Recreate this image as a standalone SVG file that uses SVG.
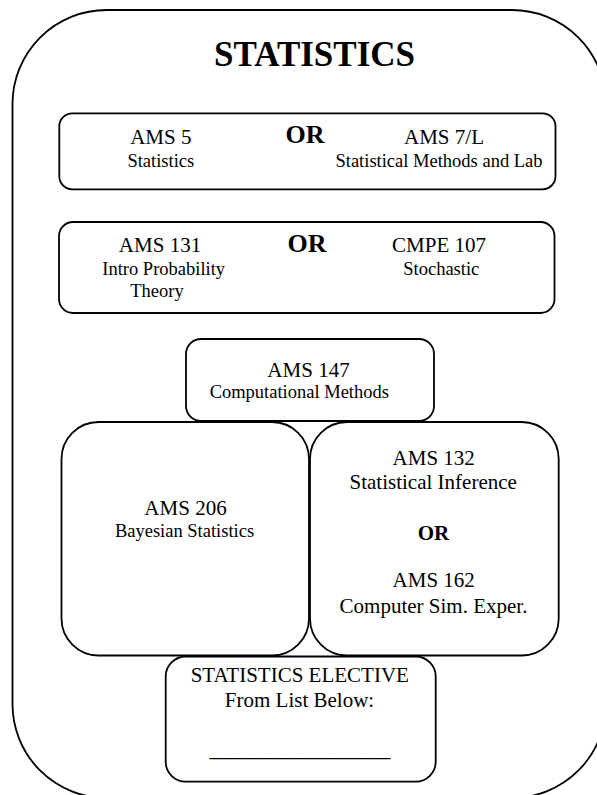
<svg xmlns="http://www.w3.org/2000/svg" width="597" height="795" viewBox="0 0 597 795">
<style>
.box{fill:#fff;stroke:#000;stroke-width:1.8}
.outer{fill:#fff;stroke:#000;stroke-width:1.8}
text{fill:#000;text-anchor:middle}
.c{font-size:21px}
.t{font-size:18.5px}
.or{font-size:26px;font-weight:bold}
.or2{font-size:21px;font-weight:bold}
.title{font-size:35px;font-weight:bold}
</style>
<rect width="597" height="795" fill="#fff"/>
<g font-family="Liberation Serif, DejaVu Serif, serif">
<g id="outer">
<rect class="outer" x="12.5" y="10" width="593.5" height="788" rx="94" ry="94"/>
<text class="title" x="314.5" y="66">STATISTICS</text>
</g>
<g id="connectors"></g>
<g id="box1">
<rect class="box" x="59.3" y="113.3" width="496.2" height="76" rx="13"/>
<text class="c" x="160.8" y="144">AMS 5</text>
<text class="t" x="160.8" y="166.7">Statistics</text>
<text class="or" x="305" y="143.3">OR</text>
<text class="c" x="444" y="144">AMS 7/L</text>
<text class="t" x="439" y="166.7">Statistical Methods and Lab</text>
</g>
<g id="box2">
<rect class="box" x="59" y="222" width="495.5" height="91" rx="14"/>
<text class="c" x="160" y="251.7">AMS 131</text>
<text class="t" x="163.7" y="275">Intro Probability</text>
<text class="t" x="157" y="296.7">Theory</text>
<text class="or" x="307" y="251.7">OR</text>
<text class="c" x="439" y="251.7">CMPE 107</text>
<text class="t" x="441.3" y="275">Stochastic</text>
</g>
<g id="box3">
<rect class="box" x="186" y="339" width="248" height="82" rx="15"/>
<text class="c" x="308.5" y="376.7">AMS 147</text>
<text class="t" x="299.3" y="398.3">Computational Methods</text>
</g>
<g id="box4">
<rect class="box" x="61.5" y="422" width="247.5" height="233.5" rx="37"/>
<text class="c" x="185.5" y="515">AMS 206</text>
<text class="t" x="184.5" y="536.5">Bayesian Statistics</text>
</g>
<g id="box5">
<rect class="box" x="310" y="422" width="248.7" height="233.5" rx="37"/>
<text class="c" x="433.7" y="465">AMS 132</text>
<text class="c" x="433.2" y="489.3">Statistical Inference</text>
<text class="or2" x="433.5" y="540">OR</text>
<text class="c" x="433.7" y="587.3">AMS 162</text>
<text class="c" x="433.5" y="612.7">Computer Sim. Exper.</text>
</g>
<g id="box6">
<rect class="box" x="165.7" y="656.5" width="270" height="125.2" rx="20"/>
<text class="c" x="299.8" y="681.7">STATISTICS ELECTIVE</text>
<text class="c" x="299.5" y="706.7">From List Below:</text>
<text x="300" y="755.5" font-size="21.3">_________________</text>
</g>
</g>
</svg>
